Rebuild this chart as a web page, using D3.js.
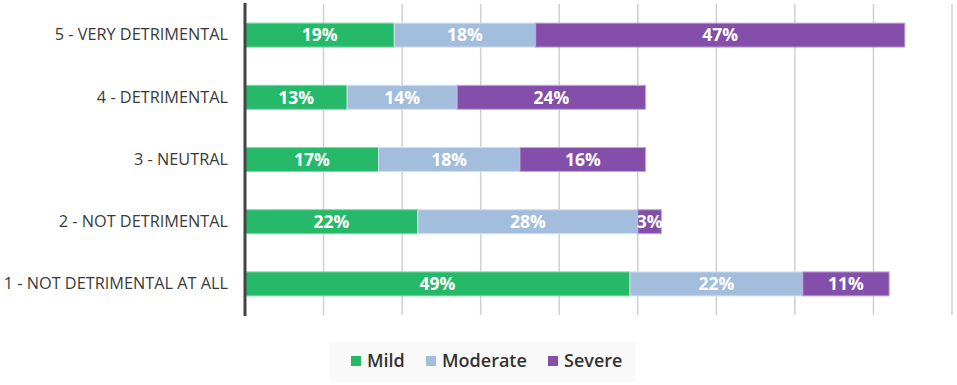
<!DOCTYPE html>
<html>
<head>
<meta charset="utf-8">
<script src="https://cdn.jsdelivr.net/npm/d3@7"></script>
<style>
  body { margin: 0; background: #fff; }
  text { font-family: "Open Sans", "Noto Sans", sans-serif; }
</style>
</head>
<body>
<div id="chart"></div>
<script>
// categories top to bottom
var categories = [
  '5 - VERY DETRIMENTAL',
  '4 - DETRIMENTAL',
  '3 - NEUTRAL',
  '2 - NOT DETRIMENTAL',
  '1 - NOT DETRIMENTAL AT ALL'
];
var seriesNames = ['Mild', 'Moderate', 'Severe'];
var mild = [19, 13, 17, 22, 49];
var moderate = [18, 14, 18, 28, 22];
var severe = [47, 24, 16, 3, 11];
var gridTicks = [0, 10, 20, 30, 40, 50, 60, 70, 80, 90];

var colors = { Mild: '#27b96a', Moderate: '#a3bddd', Severe: '#834fab' };
var strokes = { Mild: '#7fd9a4', Moderate: '#d3e0f0', Severe: '#c3a6dc' };

var rows = categories.map(function(c, i) {
  return { cat: c, Mild: mild[i], Moderate: moderate[i], Severe: severe[i] };
});

var W = 957, H = 385;
var svg = d3.select('#chart').append('svg')
  .attr('width', W)
  .attr('height', H);

var x = d3.scaleLinear().domain([0, 90]).range([245, 952]);
var y = d3.scaleBand().domain(categories).range([4, 315]).paddingInner(0.614).paddingOuter(0.307);

// gridlines
svg.append('g').selectAll('line')
  .data(gridTicks.slice(1))
  .enter().append('line')
  .attr('x1', function(d) { return x(d); })
  .attr('x2', function(d) { return x(d); })
  .attr('y1', 4)
  .attr('y2', 315)
  .attr('stroke', '#d0d0d0')
  .attr('stroke-width', 1.5);

var stack = d3.stack().keys(seriesNames)(rows);

var layer = svg.append('g').selectAll('g')
  .data(stack)
  .enter().append('g');

layer.selectAll('rect')
  .data(function(s) { return s.map(function(d) { d.key = s.key; return d; }); })
  .enter().append('rect')
  .attr('x', function(d) { return x(d[0]); })
  .attr('y', function(d) { return y(d.data.cat); })
  .attr('width', function(d) { return x(d[1]) - x(d[0]); })
  .attr('height', y.bandwidth())
  .attr('fill', function(d) { return colors[d.key]; })
  .attr('stroke', function(d) { return strokes[d.key]; })
  .attr('stroke-width', 1);

layer.selectAll('text')
  .data(function(s) { return s; })
  .enter().append('text')
  .attr('x', function(d) { return (x(d[0]) + x(d[1])) / 2; })
  .attr('y', function(d) { return y(d.data.cat) + y.bandwidth() / 2; })
  .attr('dy', '0.36em')
  .attr('text-anchor', 'middle')
  .attr('fill', '#fff')
  .attr('font-size', '17.5px')
  .attr('font-weight', 700)
  .text(function(d) { return (d[1] - d[0]) + '%'; });

// axis line + category labels
var yAxis = d3.axisLeft(y).tickSize(0).tickPadding(17);
var yg = svg.append('g')
  .attr('transform', 'translate(' + x(0) + ',0)')
  .call(yAxis);
yg.select('.domain')
  .attr('d', 'M0,3V316')
  .attr('stroke', '#444')
  .attr('stroke-width', 3);
yg.selectAll('text')
  .attr('font-size', '16.3px')
  .attr('fill', '#3a3a3a')
  .style('font-family', '"Open Sans", "Noto Sans", sans-serif');

// legend
var legend = svg.append('g');
legend.append('rect')
  .attr('x', 330).attr('y', 342)
  .attr('width', 305).attr('height', 40)
  .attr('fill', '#f9f9f9');

var legendX = [351, 426, 548];
seriesNames.forEach(function(s, i) {
  legend.append('rect')
    .attr('x', legendX[i]).attr('y', 356)
    .attr('width', 10).attr('height', 10)
    .attr('fill', colors[s]);
  legend.append('text')
    .attr('x', legendX[i] + 16).attr('y', 361)
    .attr('dy', '0.36em')
    .attr('font-size', '18px')
    .attr('font-weight', 600)
    .attr('fill', '#333')
    .text(s);
});
</script>
</body>
</html>
